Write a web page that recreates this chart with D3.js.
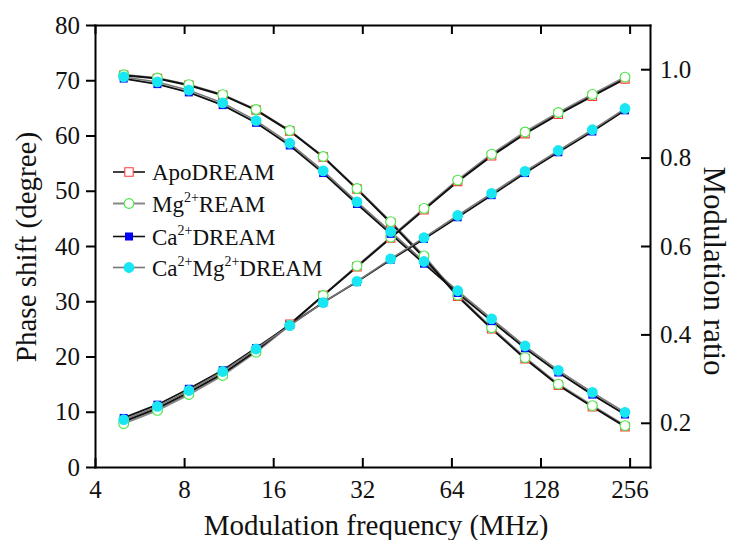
<!DOCTYPE html>
<html>
<head>
<meta charset="utf-8">
<script src="https://cdn.jsdelivr.net/npm/d3@7"></script>
<style>
  html, body { margin: 0; padding: 0; background: #fff; }
  svg { display: block; }
  text { font-family: "Liberation Serif", "Times New Roman", serif; fill: #111; }
</style>
</head>
<body>
<svg id="chart" width="734" height="540"></svg>
<script>
// Modulation frequencies (MHz)
const freq = [5.0, 6.5, 8.3, 10.8, 14.0, 18.2, 23.6, 30.7, 39.9, 51.7, 67.2, 87.5, 113.5, 147, 191.6, 247];

// Phase shift (degree)
const phaseApo  = [70.9, 70.3, 69.1, 67.3, 64.6, 60.8, 56.1, 50.3, 44.2, 37.9, 30.9, 25.0, 19.6, 14.8, 10.9, 7.3];
const phaseMg   = [71.0, 70.4, 69.2, 67.4, 64.7, 60.9, 56.2, 50.4, 44.4, 38.2, 31.1, 25.2, 19.8, 15.0, 11.1, 7.5];
const phaseCa   = [70.3, 69.3, 67.8, 65.5, 62.3, 58.2, 53.2, 47.6, 42.2, 36.8, 31.5, 26.4, 21.5, 17.1, 13.1, 9.5];
const phaseCaMg = [70.6, 69.7, 68.2, 65.9, 62.7, 58.6, 53.6, 48.0, 42.6, 37.2, 31.9, 26.8, 21.9, 17.5, 13.5, 9.9];

// Modulation ratio
const modApo  = [0.203, 0.233, 0.269, 0.311, 0.363, 0.423, 0.488, 0.553, 0.618, 0.682, 0.746, 0.804, 0.854, 0.898, 0.939, 0.978];
const modMg   = [0.198, 0.228, 0.264, 0.307, 0.360, 0.421, 0.488, 0.555, 0.620, 0.685, 0.749, 0.808, 0.858, 0.902, 0.943, 0.982];
const modCa   = [0.211, 0.241, 0.277, 0.319, 0.369, 0.421, 0.472, 0.519, 0.569, 0.616, 0.665, 0.715, 0.765, 0.812, 0.859, 0.907];
const modCaMg = [0.207, 0.237, 0.273, 0.316, 0.367, 0.420, 0.472, 0.520, 0.571, 0.619, 0.669, 0.719, 0.769, 0.816, 0.863, 0.911];

// Axis ticks
const xTicks = [4, 8, 16, 32, 64, 128, 256];
const phaseTicks = [0, 10, 20, 30, 40, 50, 60, 70, 80];
const modTicks = [0.2, 0.4, 0.6, 0.8, 1.0];

// Series: label parts are [text, isSuperscript]
const series = [
  { label: [["ApoDREAM", false]], phase: phaseApo, mod: modApo,
    shape: d3.symbolSquare, size: 70, stroke: "#ff3b3b", fill: "#fff", line: "#111", lw: 2 },
  { label: [["Mg", false], ["2+", true], ["REAM", false]], phase: phaseMg, mod: modMg,
    shape: d3.symbolCircle, size: 75, stroke: "#44e844", fill: "#fff", line: "#888", lw: 2 },
  { label: [["Ca", false], ["2+", true], ["DREAM", false]], phase: phaseCa, mod: modCa,
    shape: d3.symbolSquare, size: 64, stroke: "none", fill: "#0000ff", line: "#111", lw: 1.8 },
  { label: [["Ca", false], ["2+", true], ["Mg", false], ["2+", true], ["DREAM", false]], phase: phaseCaMg, mod: modCaMg,
    shape: d3.symbolCircle, size: 92, stroke: "none", fill: "#18e6f2", line: "#777", lw: 1.5 }
];
const [sApo, sMg, sCa, sCaMg] = series;

const svg = d3.select("#chart");
const L = 95, R = 650, T = 25, B = 467;

const x = d3.scaleLog().base(2).domain([4, 300]).range([L, R]);
const yP = d3.scaleLinear().domain([0, 80]).range([B, T]);
const yM = d3.scaleLinear().domain([0.1, 1.1]).range([B, T]);

// Connecting lines first, markers on top
const lineP = d3.line().x((d, i) => x(freq[i])).y(d => yP(d));
const lineM = d3.line().x((d, i) => x(freq[i])).y(d => yM(d));

const gLines = svg.append("g").attr("fill", "none");
[sMg, sCaMg, sApo, sCa].forEach(s =>
  gLines.append("path").attr("d", lineP(s.phase)).attr("stroke", s.line).attr("stroke-width", s.lw));
[sMg, sApo, sCa, sCaMg].forEach(s =>
  gLines.append("path").attr("d", lineM(s.mod)).attr("stroke", s.line).attr("stroke-width", s.lw));

const gMarks = svg.append("g");
series.forEach(s => {
  const sym = d3.symbol().type(s.shape).size(s.size)();
  const draw = (vals, y) => gMarks.append("g").selectAll("path").data(vals).join("path")
    .attr("d", sym)
    .attr("transform", (d, i) => `translate(${x(freq[i])},${y(d)})`)
    .attr("fill", s.fill)
    .attr("stroke", s.stroke)
    .attr("stroke-width", 1.1);
  draw(s.phase, yP);
  draw(s.mod, yM);
});

// Axes
function styleAxis(g) {
  g.selectAll("path, line").attr("stroke", "#000").attr("stroke-width", 2);
  g.selectAll("text").attr("font-size", 25).attr("font-family", "Liberation Serif").attr("fill", "#111");
}

svg.append("g").attr("transform", `translate(0,${B})`)
  .call(d3.axisBottom(x).tickValues(xTicks).tickFormat(d3.format("d"))
    .tickSizeInner(-9).tickSizeOuter(0).tickPadding(13))
  .call(styleAxis);

svg.append("g").attr("transform", `translate(0,${T})`)
  .call(d3.axisTop(x).tickValues(xTicks).tickFormat("")
    .tickSizeInner(-9).tickSizeOuter(0))
  .call(styleAxis);

svg.append("g").attr("transform", `translate(${L},0)`)
  .call(d3.axisLeft(yP).tickValues(phaseTicks).tickFormat(d3.format("d"))
    .tickSizeInner(9).tickSizeOuter(0).tickPadding(6))
  .call(styleAxis);

svg.append("g").attr("transform", `translate(${R},0)`)
  .call(d3.axisRight(yM).tickValues(modTicks).tickFormat(d3.format(".1f"))
    .tickSizeInner(-9).tickSizeOuter(0).tickPadding(10))
  .call(styleAxis);

svg.selectAll(".domain").attr("stroke-linecap", "square");

// Axis titles
svg.append("text").attr("x", 376).attr("y", 535).attr("text-anchor", "middle")
  .attr("font-size", 29).text("Modulation frequency (MHz)");

svg.append("text").attr("transform", "translate(36,247) rotate(-90)").attr("text-anchor", "middle")
  .attr("font-size", 29).text("Phase shift (degree)");

svg.append("text").attr("transform", "translate(704,271) rotate(90)").attr("text-anchor", "middle")
  .attr("font-size", 31).text("Modulation ratio");

// Legend
const legY = [172, 203.5, 236.5, 267.5];
const gLeg = svg.append("g");
series.forEach((s, k) => {
  const y = legY[k];
  gLeg.append("line").attr("x1", 113).attr("x2", 145).attr("y1", y).attr("y2", y)
    .attr("stroke", s.line).attr("stroke-width", k === 1 ? 2 : 1.6);
  gLeg.append("path").attr("d", d3.symbol().type(s.shape).size(s.size)())
    .attr("transform", `translate(129,${y})`)
    .attr("fill", s.fill).attr("stroke", s.stroke).attr("stroke-width", 1.1);
  const t = gLeg.append("text").attr("x", 152).attr("y", y + 8).attr("font-size", 23);
  s.label.forEach(([str, sup], j) => {
    if (sup) t.append("tspan").attr("font-size", 14).attr("dy", -10).text(str);
    else {
      const ts = t.append("tspan").text(str);
      if (j > 0) ts.attr("dy", 10);
    }
  });
});
</script>
</body>
</html>
